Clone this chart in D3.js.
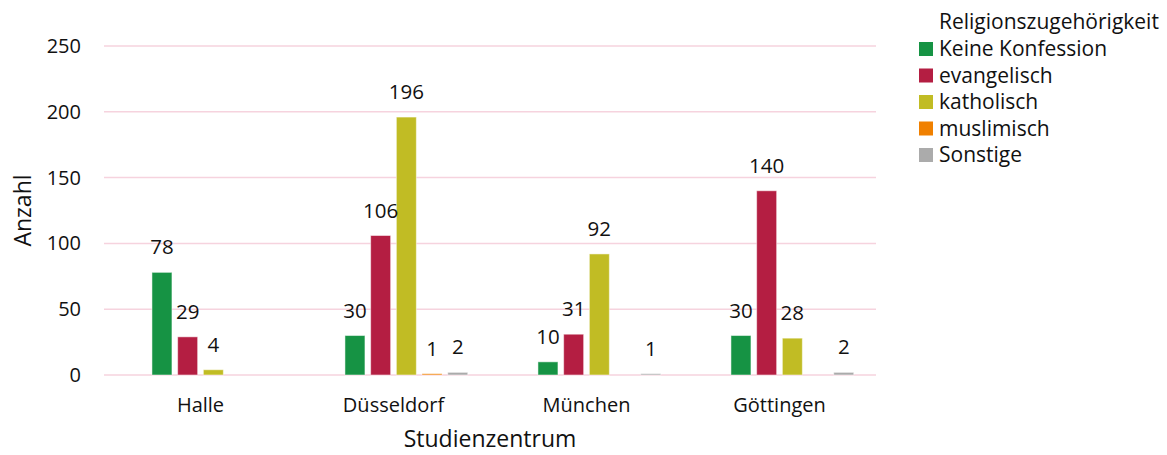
<!DOCTYPE html>
<html>
<head>
<meta charset="utf-8">
<script src="https://cdn.jsdelivr.net/npm/d3@7"></script>
<style>
  html, body { margin: 0; padding: 0; background: #fff; }
  svg { display: block; font-family: "Open Sans", "Liberation Sans", sans-serif; }
</style>
</head>
<body>
<svg id="chart" width="1167" height="455"></svg>
<script>
// ---- Data ----
const categories = ["Halle", "Düsseldorf", "München", "Göttingen"];
const seriesNames = ["Keine Konfession", "evangelisch", "katholisch", "muslimisch", "Sonstige"];
const keineKonfession = [78, 30, 10, 30];
const evangelisch     = [29, 106, 31, 140];
const katholisch      = [4, 196, 92, 28];
const muslimisch      = [0, 1, 0, 0];
const sonstige        = [0, 2, 1, 2];
const yTicks = [0, 50, 100, 150, 200, 250];
const legendTitle = "Religionszugehörigkeit";
const xTitle = "Studienzentrum";
const yTitle = "Anzahl";

const seriesValues = [keineKonfession, evangelisch, katholisch, muslimisch, sonstige];
const colors = ["#169344", "#b41e42", "#c1bc24", "#f08000", "#ababab"];

// ---- Layout ----
const svg = d3.select("#chart");
const plotLeft = 104, plotRight = 876, plotTop = 46, plotBottom = 375;
const fontSize = 20;

const x0 = d3.scaleBand().domain(categories).range([plotLeft, plotRight]).padding(0);
// six slots per category; the first slot is left empty (as in the original)
const x1 = d3.scaleBand().domain(d3.range(6)).range([0, x0.bandwidth()])
  .paddingInner(0.222).paddingOuter(0.866);
const y = d3.scaleLinear().domain([0, 250]).range([plotBottom, plotTop]);

// gridlines
svg.append("g").selectAll("line").data(yTicks).join("line")
  .attr("x1", plotLeft).attr("x2", plotRight)
  .attr("y1", d => y(d)).attr("y2", d => y(d))
  .attr("stroke", "#f6d3de").attr("stroke-width", 1.5);

// y axis labels
const yAxis = d3.axisLeft(y).tickValues(yTicks).tickSize(0).tickPadding(0);
const gy = svg.append("g").attr("transform", `translate(81,0)`).call(yAxis);
gy.select(".domain").remove();
gy.selectAll("text").attr("font-size", fontSize).attr("fill", "#111")
  .attr("font-family", "Open Sans, sans-serif");

// x axis labels
const xAxis = d3.axisBottom(x0).tickSize(0).tickPadding(0);
const gx = svg.append("g").attr("transform", `translate(0,${plotBottom})`).call(xAxis);
gx.select(".domain").remove();
gx.selectAll("text").attr("font-size", fontSize).attr("fill", "#111")
  .attr("font-family", "Open Sans, sans-serif")
  .attr("dy", null).attr("y", 37);

// bars
const flat = [];
categories.forEach((c, ci) => {
  seriesValues.forEach((vals, si) => {
    flat.push({ cat: c, si, v: vals[ci] });
  });
});
const bars = flat.filter(d => d.v > 0);
svg.append("g").selectAll("rect").data(bars).join("rect")
  .attr("x", d => x0(d.cat) + x1(d.si + 1))
  .attr("width", x1.bandwidth())
  .attr("y", d => y(d.v))
  .attr("height", d => y(0) - y(d.v))
  .attr("fill", d => colors[d.si])
  .attr("stroke", "rgba(255,255,255,0.5)").attr("stroke-width", 1);

// value labels
svg.append("g").selectAll("text").data(bars).join("text")
  .attr("x", d => x0(d.cat) + x1(d.si + 1) + x1.bandwidth() / 2)
  .attr("y", d => y(d.v) - 18)
  .attr("text-anchor", "middle")
  .attr("font-size", 20.5).attr("fill", "#111")
  .text(d => d.v);

// axis titles
svg.append("text").attr("x", (plotLeft + plotRight) / 2).attr("y", 447)
  .attr("text-anchor", "middle").attr("font-size", 23).attr("fill", "#111")
  .text(xTitle);
svg.append("text").attr("transform", `translate(31,${(plotTop + plotBottom) / 2}) rotate(-90)`)
  .attr("text-anchor", "middle").attr("font-size", 23).attr("fill", "#111")
  .text(yTitle);

// legend
const lg = svg.append("g");
lg.append("text").attr("x", 939).attr("y", 22).attr("dy", "0.35em")
  .attr("font-size", 21).attr("fill", "#111").text(legendTitle);
const items = lg.selectAll("g.item").data(seriesNames).join("g")
  .attr("class", "item")
  .attr("transform", (d, i) => `translate(0,${49 + i * 26.5})`);
items.append("rect").attr("x", 919).attr("y", -7).attr("width", 14).attr("height", 14)
  .attr("fill", (d, i) => colors[i]);
items.append("text").attr("x", 939).attr("dy", "0.35em")
  .attr("font-size", 21).attr("fill", "#111").text(d => d);
</script>
</body>
</html>
